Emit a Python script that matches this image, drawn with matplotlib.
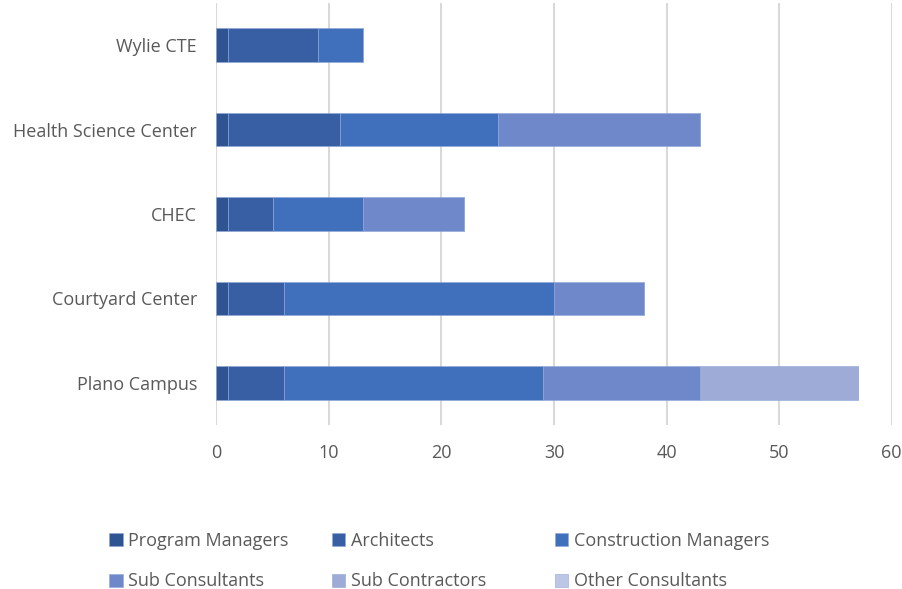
import numpy as np
import matplotlib
matplotlib.use("Agg")
import matplotlib.pyplot as plt

plt.rcParams['font.family'] = ['Open Sans', 'DejaVu Sans']

# categories top to bottom as in the picture
projects = ['Wylie CTE', 'Health Science Center', 'CHEC', 'Courtyard Center', 'Plano Campus']

program_managers = [1, 1, 1, 1, 1]
architects = [8, 10, 4, 5, 5]
construction_managers = [4, 14, 8, 24, 23]
sub_consultants = [0, 18, 9, 8, 14]
sub_contractors = [0, 0, 0, 0, 14]
other_consultants = [0, 0, 0, 0, 0]

series = [
    ('Program Managers', program_managers, '#2e5491'),
    ('Architects', architects, '#385ea4'),
    ('Construction Managers', construction_managers, '#406fbc'),
    ('Sub Consultants', sub_consultants, '#6e88ca'),
    ('Sub Contractors', sub_contractors, '#9eabd7'),
    ('Other Consultants', other_consultants, '#bcc6e5'),
]

fig = plt.figure(figsize=(9.02, 5.89), dpi=100)
ax = fig.add_axes([0.240, 0.2784, 0.7484, 0.7165])

y = np.arange(len(projects))
left = np.zeros(len(projects))
handles = []
for name, vals, col in series:
    vals = np.array(vals, dtype=float)
    b = ax.barh(y, vals, left=left, height=0.4, color=col, label=name,
                edgecolor='#8fa6d8', linewidth=0.4)
    handles.append(b)
    left += vals

ax.set_xlim(0, 60)
ax.set_ylim(len(projects) - 0.5, -0.5)
ax.set_xticks(range(0, 61, 10))
ax.set_yticks(y)
ax.set_yticklabels(projects)
ax.xaxis.grid(True, color='#d9d9d9', linewidth=1.5)
ax.set_axisbelow(True)
for s in ax.spines.values():
    s.set_visible(False)
ax.tick_params(axis='both', length=0, labelsize=13, colors='#595959')
ax.tick_params(axis='y', pad=14)
ax.tick_params(axis='x', pad=14)

# legend: three even columns, two rows
col_x = [0.121, 0.368, 0.615]
for i in range(3):
    hs = [handles[i], handles[i + 3]]
    labs = [series[i][0], series[i + 3][0]]
    fig.legend(hs, labs, loc='upper left', bbox_to_anchor=(col_x[i], 0.097),
               frameon=False, fontsize=13, labelcolor='#595959',
               handlelength=0.75, handleheight=0.75, handletextpad=0.3,
               labelspacing=1.25, borderaxespad=0, borderpad=0)

fig.savefig('out.png', dpi=100)
